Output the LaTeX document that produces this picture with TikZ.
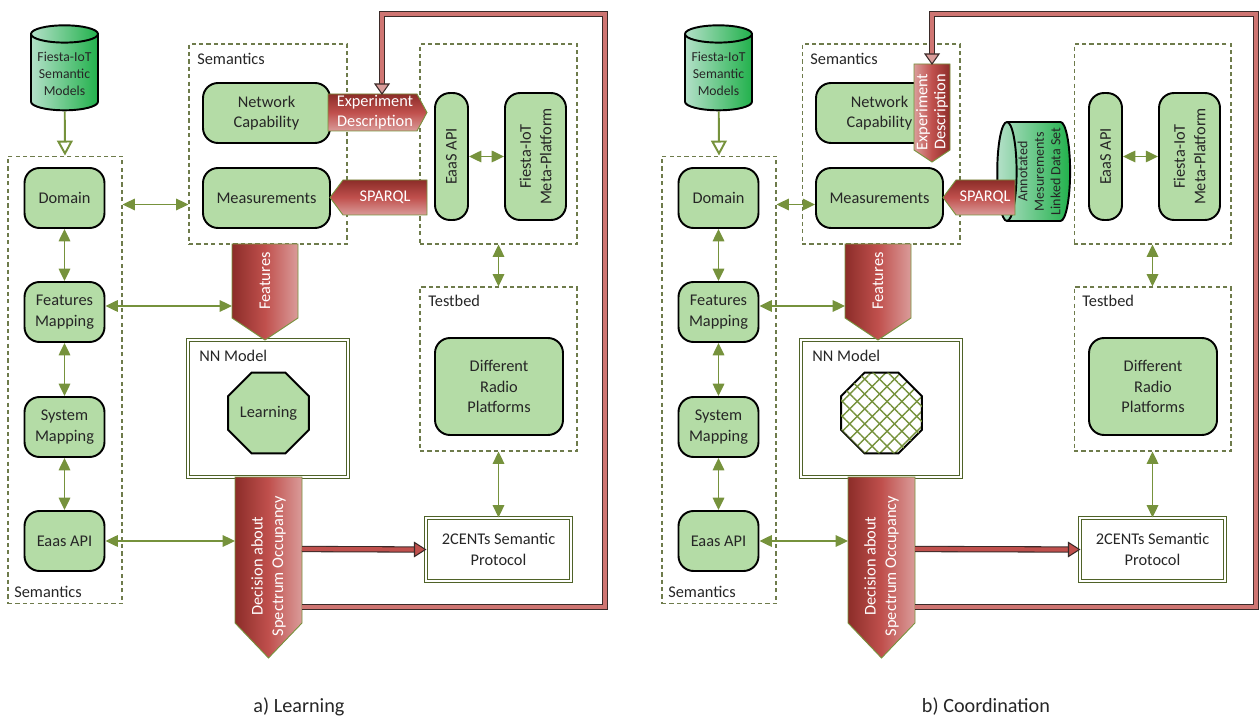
\documentclass[tikz,border=0pt]{standalone}
\usepackage{fontspec}
\setmainfont{Carlito}
\usetikzlibrary{arrows.meta,shapes.geometric,patterns.meta,calc}

\definecolor{nodegreen}{HTML}{B4DCA6}
\definecolor{arrgreen}{HTML}{76923C}
\definecolor{boxolive}{HTML}{6E7B4B}
\definecolor{dbolive}{HTML}{4F6228}
\definecolor{rdark}{HTML}{8C2D29}
\definecolor{rmid}{HTML}{C0504D}
\definecolor{rlight}{HTML}{DA9C9A}
\definecolor{txt}{HTML}{262626}
\definecolor{cmint}{HTML}{B3E0C8}
\definecolor{cgreen}{HTML}{22B14C}
\definecolor{fbdark}{HTML}{3A2A28}
\definecolor{fbin}{HTML}{CF7572}

\tikzset{
  gbox/.style={draw=black, line width=1.1pt, fill=nodegreen, rounded corners=0.3cm, align=center, text=txt, inner sep=1pt},
  dbox/.style={draw=boxolive, line width=0.6pt, dash pattern=on 2.4pt off 1.8pt, inner sep=0pt},
  dblbox/.style={draw=dbolive, line width=0.6pt, double=white, double distance=1.4pt, align=center, text=txt},
  octo/.style={regular polygon, regular polygon sides=8, minimum size=1.75cm, draw=black, line width=1.1pt, inner sep=0pt, text=txt},
  cyl/.style={cylinder, draw=black, line width=1.1pt, aspect=0.3, align=center, text=txt, inner sep=1pt},
  garrow/.style={draw=arrgreen, line width=1.1pt, >={Triangle[length=7pt,width=6.5pt]}, <->},
  harrow/.style={draw=arrgreen, line width=1.1pt, -{Triangle[open,length=8.5pt,width=9pt]}},
  redshape/.style={draw=arrgreen, line width=0.5pt},
  rtxt/.style={text=white, align=center, inner sep=0pt},
  lbl/.style={text=txt, anchor=west, inner sep=0pt},
  rline/.style={draw=fbdark, line width=0.6pt, double=rmid, double distance=2.4pt},
  fbline/.style={draw=fbdark, line width=0.6pt, double=fbin, double distance=2.4pt},
  headfill/.style={draw=fbdark, line width=0.6pt}
}

\begin{document}
\begin{tikzpicture}[x=0.02cm, y=-0.02cm, font=\fontsize{9.3}{11.6}\selectfont]
\useasboundingbox (0,0) rectangle (1260,722);

\node [dbox, minimum width=2.28cm, minimum height=8.96cm] (lbox) at (65,380) {};
\node [dbox, minimum width=3.16cm, minimum height=4cm] (sembox) at (268,144) {};
\node [dbox, minimum width=3.14cm, minimum height=4cm] (platbox) at (498.5,144) {};
\node [dbox, minimum width=3.14cm, minimum height=3.28cm] (testbox) at (498.5,369) {};
\node [dblbox, minimum width=3.2cm, minimum height=2.74cm] (nn) at (268,408.5) {};
\node [lbl] (lsem) at (14,592) {Semantics};
\node [lbl] (tsem) at (197,59) {Semantics};
\node [lbl] (tbed) at (428,301) {Testbed};
\node [lbl] (nnl) at (199,356) {NN Model};

\node [cyl, shape border rotate=90, left color=cmint, right color=cgreen, minimum width=1.34cm, minimum height=1.7cm, font=\fontsize{7.8}{9.6}\selectfont] (fsm) at (64.5,74) {Fiesta-IoT\\Semantic\\Models};
\node [gbox, minimum width=1.6cm, minimum height=1.2cm] (dom) at (64.5,198) {Domain};
\node [gbox, minimum width=1.6cm, minimum height=1.2cm] (fmap) at (64.5,312) {Features\\Mapping};
\node [gbox, minimum width=1.6cm, minimum height=1.2cm] (smap) at (64.5,427) {System\\Mapping};
\node [gbox, minimum width=1.6cm, minimum height=1.2cm] (eapi) at (64.5,541) {Eaas API};
\node [gbox, minimum width=2.54cm, minimum height=1.2cm] (netcap) at (266.5,113) {Network\\Capability};
\node [gbox, minimum width=2.54cm, minimum height=1.2cm] (meas) at (266.5,198) {Measurements};
\node [gbox, rotate=90, minimum width=2.54cm, minimum height=0.66cm] (eaas) at (451.5,156.5) {EaaS API};
\node [gbox, rotate=90, minimum width=2.54cm, minimum height=1.22cm] (fplat) at (535.5,156.5) {Fiesta-IoT\\Meta-Platform};
\node [gbox, minimum width=2.56cm, minimum height=1.94cm] (drp) at (499,386.5) {Different\\Radio\\Platforms};
\node [dblbox, minimum width=2.9cm, minimum height=1.26cm] (cents) at (498.5,549.5) {2CENTs Semantic\\Protocol};
\node [octo, fill=nodegreen] (learn) at (268.5,413) {Learning};

\shadedraw [redshape, top color=rdark, bottom color=rlight, middle color=rmid] (328,94) -- (417,94) -- (427,112.5) -- (417,131) -- (328,131) -- cycle;
\node [rtxt, font=\fontsize{9.3}{11.2}\selectfont] (expd) at (375,112.5) {Experiment\\Description};
\shadedraw [redshape, top color=rdark, bottom color=rlight, middle color=rmid] (330,197.5) -- (343,180) -- (427,180) -- (427,215) -- (343,215) -- cycle;
\node [rtxt] (sparql) at (385,197.5) {SPARQL};
\shadedraw [redshape, left color=rdark, right color=rlight, middle color=rmid] (232,244) -- (298,244) -- (298,318) -- (265,340) -- (232,318) -- cycle;
\node [rtxt, rotate=90] (feat) at (265,281) {Features};
\shadedraw [redshape, left color=rdark, right color=rlight, middle color=rmid] (235,477) -- (302,477) -- (302,623) -- (268.5,658) -- (235,623) -- cycle;
\node [rtxt, rotate=90] (dec) at (268.5,566) {Decision about\\Spectrum Occupancy};

\coordinate (featW) at (232,306);
\coordinate (decW) at (235,541);
\coordinate (decE) at (302,549);
\coordinate (fbs) at (302,607);
\coordinate (fbe) at (382,84);

\draw [harrow] (fsm) -- (lbox.north);
\draw [garrow] (dom) -- (fmap);
\draw [garrow] (fmap) -- (smap);
\draw [garrow] (smap) -- (eapi);
\draw [garrow] (lbox.east |- 0,204.5) -- (sembox.west |- 0,204.5);
\draw [garrow] (featW -| fmap.east) -- (featW);
\draw [garrow] (decW -| eapi.east) -- (decW);
\draw [garrow] (eaas) -- (fplat);
\draw [garrow] (platbox) -- (testbox);
\draw [garrow] (testbox) -- (cents);

\draw [rline] (decE) -- ($(cents.west)+(-11,0)$);
\filldraw [headfill, fill=rmid] (cents.west) -- ++(-11,-7) -- ++(0,14) -- cycle;
\draw [fbline] (fbs) -| (605,14) -| (fbe);
\filldraw [headfill, fill=rlight] (fbe) ++(-7,0) -- ++(14,0) -- ++(-7,10) -- cycle;

\node [text=txt, font=\fontsize{11.5}{14}\selectfont] (capa) at (299,707) {a) Learning};

\node [dbox, minimum width=2.28cm, minimum height=8.96cm] (lbox2) at (719,380) {};
\node [dbox, minimum width=3.16cm, minimum height=4cm] (sembox2) at (881,144) {};
\node [dbox, minimum width=3.14cm, minimum height=4cm] (platbox2) at (1152.5,144) {};
\node [dbox, minimum width=3.14cm, minimum height=3.28cm] (testbox2) at (1152.5,369) {};
\node [dblbox, minimum width=3.2cm, minimum height=2.74cm] (nn2) at (881,408.5) {};
\node [lbl] (lsem2) at (668,592) {Semantics};
\node [lbl] (tsem2) at (810,59) {Semantics};
\node [lbl] (tbed2) at (1082,301) {Testbed};
\node [lbl] (nnl2) at (812,356) {NN Model};

\node [cyl, shape border rotate=90, left color=cmint, right color=cgreen, minimum width=1.34cm, minimum height=1.7cm, font=\fontsize{7.8}{9.6}\selectfont] (fsm2) at (718.5,74) {Fiesta-IoT\\Semantic\\Models};
\node [gbox, minimum width=1.6cm, minimum height=1.2cm] (dom2) at (718.5,198) {Domain};
\node [gbox, minimum width=1.6cm, minimum height=1.2cm] (fmap2) at (718.5,312) {Features\\Mapping};
\node [gbox, minimum width=1.6cm, minimum height=1.2cm] (smap2) at (718.5,427) {System\\Mapping};
\node [gbox, minimum width=1.6cm, minimum height=1.2cm] (eapi2) at (718.5,541) {Eaas API};
\node [gbox, minimum width=2.54cm, minimum height=1.2cm] (netcap2) at (879.5,113) {Network\\Capability};
\node [gbox, minimum width=2.54cm, minimum height=1.2cm] (meas2) at (879.5,198) {Measurements};
\node [gbox, rotate=90, minimum width=2.54cm, minimum height=0.66cm] (eaas2) at (1105.5,156.5) {EaaS API};
\node [gbox, rotate=90, minimum width=2.54cm, minimum height=1.22cm] (fplat2) at (1189.5,156.5) {Fiesta-IoT\\Meta-Platform};
\node [gbox, minimum width=2.56cm, minimum height=1.94cm] (drp2) at (1153,386.5) {Different\\Radio\\Platforms};
\node [dblbox, minimum width=2.9cm, minimum height=1.26cm] (cents2) at (1152.5,549.5) {2CENTs Semantic\\Protocol};
\node [octo, pattern={Lines[angle=45,distance=6pt,line width=0.8pt]}, pattern color=arrgreen, postaction={pattern={Lines[angle=-45,distance=6pt,line width=0.8pt]}, pattern color=arrgreen}] (learn2) at (881.5,413) {};
\node [cyl, rotate=90, shape border rotate=90, aspect=0.22, inner sep=0pt, left color=cmint, right color=cgreen, minimum width=1.98cm, minimum height=1.2cm, font=\fontsize{8}{9.4}\selectfont] (amd) at (1039,171.5) {Annotated\\Mesurements\\Linked Data Set};

\shadedraw [redshape, left color=rlight, right color=rdark, middle color=rmid] (914,64) -- (950,64) -- (950,150) -- (932,162) -- (914,150) -- cycle;
\node [rtxt, rotate=90, font=\fontsize{9.3}{10.2}\selectfont] (expd2) at (932,112) {Experiment\\Description};
\shadedraw [redshape, top color=rdark, bottom color=rlight, middle color=rmid] (943,197.5) -- (956,180) -- (1015,180) -- (1015,215) -- (956,215) -- cycle;
\node [rtxt] (sparql2) at (985,197.5) {SPARQL};
\shadedraw [redshape, left color=rdark, right color=rlight, middle color=rmid] (845,244) -- (911,244) -- (911,318) -- (878,340) -- (845,318) -- cycle;
\node [rtxt, rotate=90] (feat2) at (878,281) {Features};
\shadedraw [redshape, left color=rdark, right color=rlight, middle color=rmid] (848,477) -- (915,477) -- (915,623) -- (881.5,658) -- (848,623) -- cycle;
\node [rtxt, rotate=90] (dec2) at (881.5,566) {Decision about\\Spectrum Occupancy};

\coordinate (featW2) at (845,306);
\coordinate (decW2) at (848,541);
\coordinate (decE2) at (915,549);
\coordinate (fbs2) at (915,607);
\coordinate (fbe2) at (932,54);

\draw [harrow] (fsm2) -- (lbox2.north);
\draw [garrow] (dom2) -- (fmap2);
\draw [garrow] (fmap2) -- (smap2);
\draw [garrow] (smap2) -- (eapi2);
\draw [garrow] (lbox2.east |- 0,204.5) -- (meas2.west |- 0,204.5);
\draw [garrow] (featW2 -| fmap2.east) -- (featW2);
\draw [garrow] (decW2 -| eapi2.east) -- (decW2);
\draw [garrow] (eaas2) -- (fplat2);
\draw [garrow] (platbox2) -- (testbox2);
\draw [garrow] (testbox2) -- (cents2);

\draw [rline] (decE2) -- ($(cents2.west)+(-11,0)$);
\filldraw [headfill, fill=rmid] (cents2.west) -- ++(-11,-7) -- ++(0,14) -- cycle;
\draw [fbline] (fbs2) -| (1256,14) -| (fbe2);
\filldraw [headfill, fill=rlight] (fbe2) ++(-7,0) -- ++(14,0) -- ++(-7,10) -- cycle;

\node [text=txt, font=\fontsize{11.5}{14}\selectfont] (capb) at (986,707) {b) Coordination};
\end{tikzpicture}
\end{document}
